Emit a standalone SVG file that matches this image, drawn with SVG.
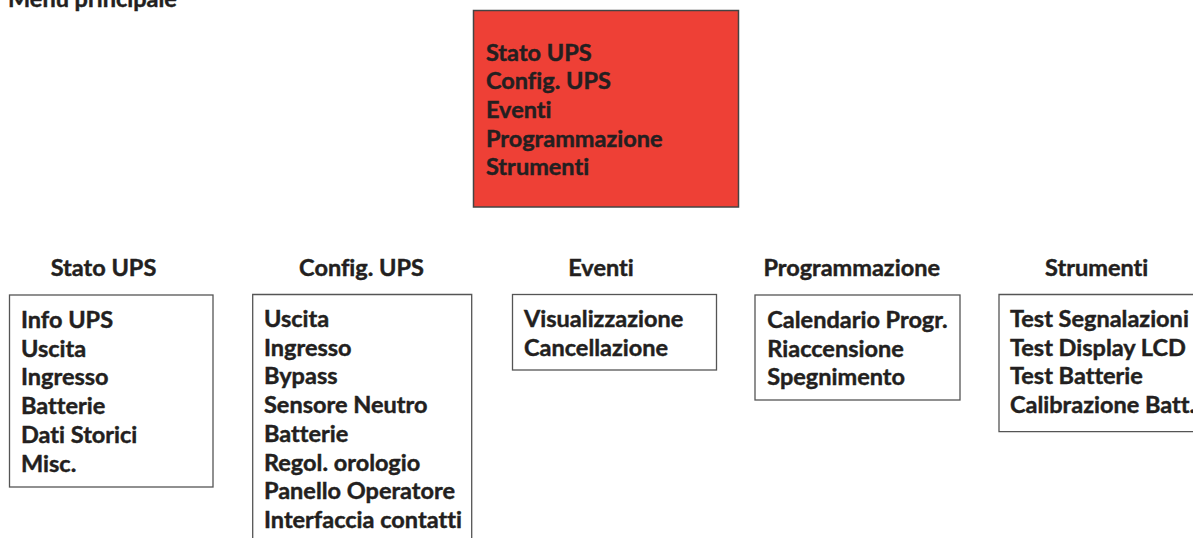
<svg xmlns="http://www.w3.org/2000/svg" width="1193" height="538" viewBox="0 0 1193 538">
<style>
text{font-family:Lato,"Open Sans",sans-serif;font-weight:700;font-size:23.5px;fill:#231f20;stroke:#231f20;stroke-width:0.45;font-variant-ligatures:none}
.t{text-anchor:middle}
.box{fill:#fff;stroke:#555;stroke-width:1.3}
.main{fill:#ee4036;stroke:#444;stroke-width:1.5}
</style>
<rect width="1193" height="538" fill="#fff"/>
<text id="title" x="8" y="7">Menu principale</text>
<g id="menu">
<rect class="main" x="473.5" y="10.5" width="265" height="196.5"/>
<text x="486"><tspan x="486" y="60.5">Stato UPS</tspan><tspan x="486" y="89.2">Config. UPS</tspan><tspan x="486" y="117.9">Eventi</tspan><tspan x="486" y="146.6">Programmazione</tspan><tspan x="486" y="175.3">Strumenti</tspan></text>
</g>
<g id="stato">
<text class="t" x="103.5" y="276">Stato UPS</text>
<rect class="box" x="9.5" y="295" width="203.5" height="192"/>
<text><tspan x="21" y="328">Info UPS</tspan><tspan x="21" y="356.7">Uscita</tspan><tspan x="21" y="385.4">Ingresso</tspan><tspan x="21" y="414.1">Batterie</tspan><tspan x="21" y="442.8">Dati Storici</tspan><tspan x="21" y="471.5">Misc.</tspan></text>
</g>
<g id="config">
<text class="t" x="361.5" y="276">Config. UPS</text>
<path class="box" d="M252.7 545V294.5H471.7V545"/>
<text><tspan x="264" y="327">Uscita</tspan><tspan x="264" y="355.7">Ingresso</tspan><tspan x="264" y="384.4">Bypass</tspan><tspan x="264" y="413.1">Sensore Neutro</tspan><tspan x="264" y="441.8">Batterie</tspan><tspan x="264" y="470.5">Regol. orologio</tspan><tspan x="264" y="499.2">Panello Operatore</tspan><tspan x="264" y="527.9">Interfaccia contatti</tspan></text>
</g>
<g id="eventi">
<text class="t" x="601" y="276">Eventi</text>
<rect class="box" x="512.5" y="294.5" width="204" height="75.5"/>
<text><tspan x="524" y="327">Visualizzazione</tspan><tspan x="524" y="355.7">Cancellazione</tspan></text>
</g>
<g id="programmazione">
<text class="t" x="851.7" y="276">Programmazione</text>
<rect class="box" x="755" y="295" width="205" height="105"/>
<text><tspan x="767.3" y="328">Calendario Progr.</tspan><tspan x="767.3" y="356.7">Riaccensione</tspan><tspan x="767.3" y="385.4">Spegnimento</tspan></text>
</g>
<g id="strumenti">
<text class="t" x="1096.7" y="276">Strumenti</text>
<path class="box" d="M1200 294.5H999V431.7H1200"/>
<text><tspan x="1010" y="327">Test Segnalazioni</tspan><tspan x="1010" y="355.7">Test Display LCD</tspan><tspan x="1010" y="384.4">Test Batterie</tspan><tspan x="1010" y="413.1">Calibrazione Batt.</tspan></text>
</g>
<g id="connectors"></g>
</svg>
